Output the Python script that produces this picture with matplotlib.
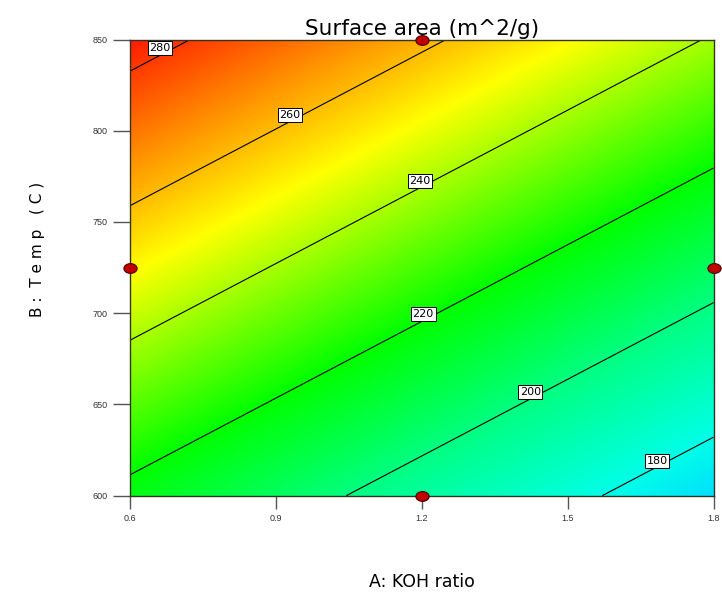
import numpy as np
import matplotlib
matplotlib.use("Agg")
import matplotlib.pyplot as plt
from matplotlib.colors import LinearSegmentedColormap
from matplotlib.path import Path
from matplotlib.transforms import Affine2D

plt.rcParams["font.family"] = ["DejaVu Sans"]

# factor ranges (actual units)
koh_range = [0.6, 1.8]
temp_range = [600, 850]

# fitted linear model in coded units: y = b0 + bA*A + bB*B
b0 = 228.0
bA = -22.8
bB = 33.9

# contour levels and where their labels sit
levels = [180, 200, 220, 240, 260, 280]
label_koh = [1.684, 1.423, 1.203, 1.196, 0.929, 0.662]
label_temp = [619.0, 656.8, 699.6, 772.5, 808.6, 845.3]

# design points
design_koh = [1.2, 0.6, 1.8, 1.2]
design_temp = [850, 725, 725, 600]

x_ticks = [0.6, 0.9, 1.2, 1.5, 1.8]
y_ticks = [600, 650, 700, 750, 800, 850]

# colour scale anchors (response value -> colour)
cmap_values = [170, 180, 200, 220, 250, 286]
cmap_colors = ["#00dcff", "#00ffe8", "#00ff80", "#00ff00", "#ffff00", "#ff1400"]


def surface(a, b):
    ca = (a - 1.2) / 0.6
    cb = (b - 725) / 125
    return b0 + bA * ca + bB * cb


A = np.linspace(koh_range[0], koh_range[1], 241)
B = np.linspace(temp_range[0], temp_range[1], 241)
AA, BB = np.meshgrid(A, B)
Z = surface(AA, BB)

vmin, vmax = cmap_values[0], cmap_values[-1]
pos = [(v - vmin) / (vmax - vmin) for v in cmap_values]
cmap = LinearSegmentedColormap.from_list("de", list(zip(pos, cmap_colors)))

fig = plt.figure(figsize=(7.22, 5.96), dpi=100)
ax = fig.add_axes([0.18, 0.1683, 0.8083, 0.7654])

ax.pcolormesh(AA, BB, Z, cmap=cmap, vmin=vmin, vmax=vmax, shading="gouraud")
cs = ax.contour(AA, BB, Z, levels=levels, colors="black", linewidths=0.8)
label_pos = list(zip(label_koh, label_temp))
labels = ax.clabel(cs, levels=levels, inline=False, fontsize=8, fmt="%d",
                   manual=label_pos)
for t in labels:
    # keep labels upright and put them back where they were placed
    i = levels.index(int(float(t.get_text())))
    t.set_position(label_pos[i])
    t.set_rotation(0)
    t.set_bbox(dict(facecolor="white", edgecolor="black", linewidth=0.7,
                    boxstyle="square,pad=0.15"))
    t.set_zorder(5)

# design points drawn as flat ellipses
ellipse = Path.unit_circle().transformed(Affine2D().scale(1.35, 1.0))
ax.plot(design_koh, design_temp, linestyle="none", marker=ellipse,
        markersize=9.5, markerfacecolor="#c00000", markeredgecolor="#4a0000",
        markeredgewidth=0.8, clip_on=False, zorder=6)

ax.set_xlim(koh_range)
ax.set_ylim(temp_range)
ax.set_xticks(x_ticks)
ax.set_xticklabels([f"{v:.1f}" for v in x_ticks])
ax.set_yticks(y_ticks)
ax.tick_params(axis="x", direction="out", length=9.5, width=1.0,
               color="#555555", labelsize=6.5, pad=4, labelcolor="#333333")
ax.tick_params(axis="y", direction="out", length=12, width=1.0,
               color="#555555", labelsize=6.5, pad=4, labelcolor="#333333")
for lab in ax.get_xticklabels() + ax.get_yticklabels():
    lab.set_family("Liberation Sans")
for sp in ax.spines.values():
    sp.set_color("#333322")
    sp.set_linewidth(1.0)

ax.set_title("Surface area (m^2/g)", fontsize=15.5, pad=3)
ax.set_xlabel("A: KOH ratio", fontsize=12.5, va="center")
ax.xaxis.set_label_coords(0.5, -0.1885)
ax.set_ylabel("B :  T e m p   ( C )", fontsize=11, va="center")
ax.yaxis.set_label_coords(-0.159, 0.54)

fig.savefig("out.png", dpi=100)
